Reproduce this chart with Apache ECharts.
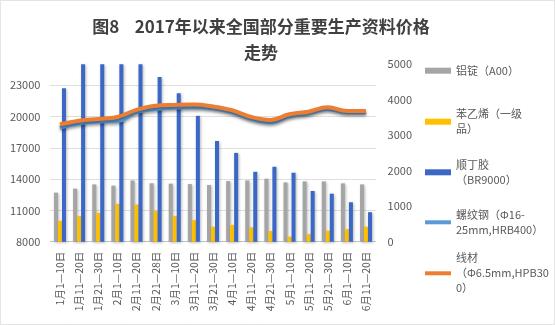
<!DOCTYPE html>
<html><head><meta charset="utf-8">
<script src="https://cdn.jsdelivr.net/npm/echarts@6/dist/echarts.min.js"></script>
<style>html,body{margin:0;padding:0;background:#fff}#c{width:555px;height:325px}</style>
</head><body><div id="c"></div>
<script>
var categories = ['1月1—10日','1月11—20日','1月21—30日','2月1—10日','2月11—20日','2月21—28日','3月1—10日','3月11—20日','3月21—30日','4月1—10日','4月11—20日','4月21—30日','5月1—10日','5月11—20日','5月21—30日','6月1—10日','6月11—20日'];
var aluminium = [12700,13080,13490,13370,13870,13600,13560,13520,13430,13810,13870,14030,13680,13780,13780,13590,13490];
var styrene = [10000,10450,10760,11620,11560,10950,10450,10070,9430,9590,9370,9020,8480,8730,9050,9200,9430];
var butadiene = [22700,26800,28000,28300,26600,23780,22220,20060,17650,16510,14700,15180,14610,12860,12600,11780,10830];
var rebar = [3215,3330,3385,3400,3650,3740,3780,3790,3760,3650,3460,3365,3535,3620,3740,3650,3650];
var wire = [3310,3410,3460,3515,3715,3835,3855,3865,3810,3705,3515,3430,3590,3665,3790,3685,3685];
var leftTicks = {min: 8000, max: 25000, interval: 3000};
var rightTicks = {min: 0, max: 5000, interval: 1000};
var names = ['铝锭（A00）','苯乙烯（一级\n品）','顺丁胶\n（BR9000）','螺纹钢（Φ16-\n25mm,HRB400）','线材\n（Φ6.5mm,HPB30\n0）'];

var font = '"Noto Sans CJK SC", "Noto Sans", sans-serif';
var txt = '#595959';
var chart = echarts.init(document.getElementById('c'), null, {renderer: 'canvas'});

var iconY = [70.7, 121.7, 172.3, 222.3, 273.3];
var L = 15;
var legends = names.map(function (n, i) {
  var lines = n.split('\n').length;
  return {
    data: [{name: n, icon: 'rect', textStyle: {padding: [(lines - 1) * L, 0, 0, 0]}}],
    left: 425,
    top: iconY[i] - (2 * lines - 1) * L / 2,
    padding: 0,
    itemWidth: 26,
    itemHeight: i >= 3 ? 4 : 6,
    itemGap: 0,
    selectedMode: false,
    textStyle: {color: txt, fontSize: 11, fontFamily: font, lineHeight: L}
  };
});

var shadow = {shadowColor: 'rgba(0,0,0,0.28)', shadowBlur: 3, shadowOffsetX: 1, shadowOffsetY: 1};
var plain = function (v) { return String(v); };

chart.setOption({
  animation: false,
  backgroundColor: '#fff',
  title: {
    text: '图8    2017年以来全国部分重要生产资料价格\n走势',
    left: 261, top: 14, padding: 0, textAlign: 'center',
    textStyle: {fontSize: 17, fontWeight: 'bold', color: '#404040', fontFamily: font, lineHeight: 26}
  },
  legend: legends,
  graphic: [{type: 'rect', shape: {x: 0.5, y: 0.5, width: 554, height: 324}, style: {fill: 'none', stroke: '#c8c8c8', lineWidth: 1, lineDash: [1, 1]}, silent: true}],
  grid: {left: 50.4, right: 179.4, top: 64.3, bottom: 83.3, containLabel: false},
  xAxis: {
    type: 'category', data: categories,
    axisLine: {lineStyle: {color: '#bfbfbf', type: [1, 1]}},
    axisTick: {show: false},
    axisLabel: {rotate: 90, fontSize: 10.5, color: txt, fontFamily: font, margin: 10, interval: 0}
  },
  yAxis: [{
    type: 'value', min: leftTicks.min, max: leftTicks.max, interval: leftTicks.interval,
    axisLine: {show: false}, axisTick: {show: false},
    axisLabel: {fontSize: 11, color: txt, fontFamily: font, margin: 10, showMaxLabel: false, formatter: plain},
    splitLine: {show: true, showMaxLine: false, lineStyle: {color: '#bfbfbf', type: [1, 1]}}
  }, {
    type: 'value', min: rightTicks.min, max: rightTicks.max, interval: rightTicks.interval,
    axisLine: {show: false}, axisTick: {show: false},
    axisLabel: {fontSize: 11, color: txt, fontFamily: font, margin: 12, formatter: plain},
    splitLine: {show: false}
  }],
  series: [
    {name: names[0], type: 'bar', yAxisIndex: 0, data: aluminium, barWidth: 4, barGap: '0%',
      itemStyle: Object.assign({color: '#a5a5a5'}, shadow)},
    {name: names[1], type: 'bar', yAxisIndex: 0, data: styrene, barWidth: 4, barGap: '0%',
      itemStyle: Object.assign({color: '#ffc000'}, shadow)},
    {name: names[2], type: 'bar', yAxisIndex: 0, data: butadiene, barWidth: 4, barGap: '0%',
      itemStyle: Object.assign({color: '#3b67c6'}, shadow)},
    {name: names[3], type: 'line', yAxisIndex: 1, data: rebar, smooth: 0.4, symbol: 'none',
      lineStyle: {color: '#5b9bd5', width: 4, shadowColor: 'rgba(0,0,0,0.35)', shadowBlur: 3, shadowOffsetY: 2},
      itemStyle: {color: '#5b9bd5'}},
    {name: names[4], type: 'line', yAxisIndex: 1, data: wire, smooth: 0.4, symbol: 'none',
      lineStyle: {color: '#ed7d31', width: 4, shadowColor: 'rgba(0,0,0,0.35)', shadowBlur: 3, shadowOffsetY: 2},
      itemStyle: {color: '#ed7d31'}}
  ]
});
</script></body></html>
